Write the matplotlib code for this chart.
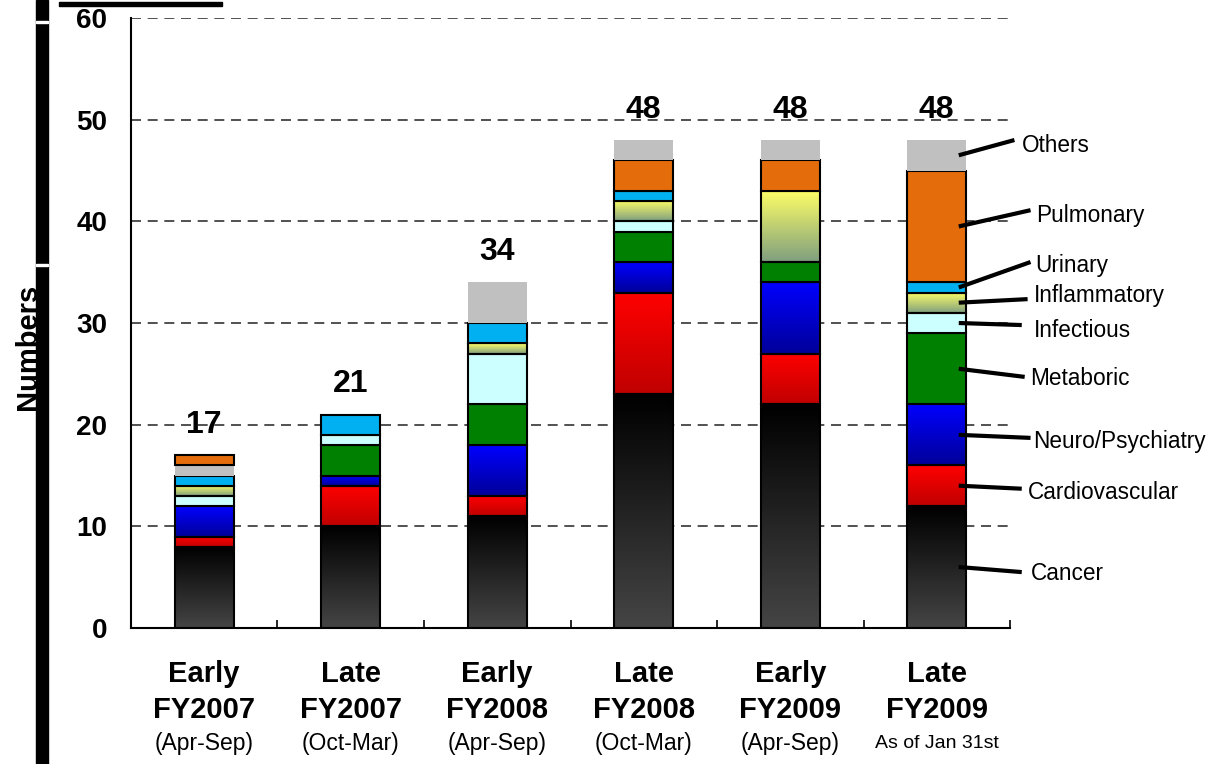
import matplotlib.pyplot as plt
import numpy as np
from matplotlib.colors import LinearSegmentedColormap
from matplotlib.patches import Rectangle

plt.rcParams['font.family'] = ['Liberation Sans', 'DejaVu Sans']

periods = ['Early\nFY2007', 'Late\nFY2007', 'Early\nFY2008', 'Late\nFY2008', 'Early\nFY2009', 'Late\nFY2009']
sub_labels = ['(Apr-Sep)', '(Oct-Mar)', '(Apr-Sep)', '(Oct-Mar)', '(Apr-Sep)', 'As of Jan 31st']

categories = ['Cancer', 'Cardiovascular', 'Neuro/Psychiatry', 'Metaboric', 'Infectious',
              'Inflammatory', 'Urinary', 'Pulmonary', 'Others']

cancer = [8, 10, 11, 23, 22, 12]
cardiovascular = [1, 4, 2, 10, 5, 4]
neuro = [3, 1, 5, 3, 7, 6]
metaboric = [0, 3, 4, 3, 2, 7]
infectious = [1, 1, 5, 1, 0, 2]
inflammatory = [1, 0, 1, 2, 7, 2]
urinary = [1, 2, 2, 1, 0, 1]
pulmonary = [1, 0, 0, 3, 3, 11]
others = [1, 0, 4, 2, 2, 3]

# the first period stacks Others underneath Pulmonary
others_under_pulmonary = [True, False, False, False, False, False]

series = [cancer, cardiovascular, neuro, metaboric, infectious,
          inflammatory, urinary, pulmonary, others]
totals = [sum(v) for v in zip(*series)]

# (top colour, bottom colour) -> vertical gradient; single colour -> flat fill
fills = {
    'Cancer': ('#000000', '#454545'),
    'Cardiovascular': ('#ff0000', '#c00000'),
    'Neuro/Psychiatry': ('#0000ff', '#000099'),
    'Metaboric': '#008000',
    'Infectious': '#ccffff',
    'Inflammatory': ('#ffff66', '#7f9f7f'),
    'Urinary': '#00b0f0',
    'Pulmonary': '#e46c0a',
    'Others': '#c0c0c0',
}

fig = plt.figure(figsize=(12.15, 7.64), dpi=100)
ax = fig.add_axes([0.1078, 0.178, 0.7235, 0.7984])

x = np.arange(len(periods))
width = 0.4
grad = np.linspace(0, 1, 128).reshape(-1, 1)

for i in range(len(periods)):
    order = list(range(len(categories)))
    if others_under_pulmonary[i]:
        order[-2], order[-1] = order[-1], order[-2]
    bottom = 0
    for k in order:
        h = series[k][i]
        if h == 0:
            continue
        name = categories[k]
        fill = fills[name]
        if isinstance(fill, tuple):
            cmap = LinearSegmentedColormap.from_list(name, [fill[1], fill[0]])
            ax.imshow(grad, cmap=cmap, aspect='auto', origin='lower', zorder=2,
                      extent=[x[i] - width / 2, x[i] + width / 2, bottom, bottom + h])
            face = 'none'
        else:
            face = fill
        edge = 'none' if name == 'Others' else 'black'
        ax.bar(x[i], h, width, bottom=bottom, color=face, edgecolor=edge,
               linewidth=1.5, zorder=3)
        bottom += h
    ax.text(x[i], totals[i] + 3, str(totals[i]), ha='center', va='center',
            fontsize=23, fontweight='bold', zorder=4)

# callouts naming each disease area on the last bar
label_pos = {
    'Others': (5.58, 47.5, 5.53, 48.0),
    'Pulmonary': (5.68, 40.6, 5.64, 41.1),
    'Urinary': (5.67, 35.7, 5.64, 36.0),
    'Inflammatory': (5.66, 32.7, 5.62, 32.35),
    'Infectious': (5.66, 29.3, 5.58, 29.8),
    'Metaboric': (5.64, 24.5, 5.60, 24.7),
    'Neuro/Psychiatry': (5.66, 18.3, 5.64, 18.7),
    'Cardiovascular': (5.62, 13.3, 5.58, 13.7),
    'Cancer': (5.64, 5.4, 5.58, 5.5),
}
last = len(periods) - 1
bottom = 0
for k, name in enumerate(categories):
    h = series[k][last]
    mid = bottom + h / 2
    bottom += h
    tx, ty, lx, ly = label_pos[name]
    ax.plot([x[last] + 0.15, lx], [mid, ly], color='black', lw=3,
            solid_capstyle='butt', clip_on=False, zorder=5)
    ax.text(tx, ty, name, ha='left', va='center', fontsize=16.3, clip_on=False)

ax.set_xlim(-0.5, len(periods) - 0.5)
ax.set_ylim(0, 60)
ax.set_yticks(range(0, 61, 10))
ax.tick_params(axis='y', length=0, pad=17, labelsize=20)
for lbl in ax.get_yticklabels():
    lbl.set_fontweight('bold')

ax.set_xticks(x, labels=periods, fontsize=21, fontweight='bold', linespacing=1.35)
ax.set_xticks(np.arange(-0.5, len(periods)), minor=True)
ax.tick_params(axis='x', which='major', length=0, pad=23)
ax.tick_params(axis='x', which='minor', direction='in', length=6, width=1.2)
for i, s in enumerate(sub_labels):
    ax.text(x[i], -0.19, s, transform=ax.get_xaxis_transform(),
            ha='center', va='center', fontsize=14 if i == last else 16.5)

ax.yaxis.grid(True, color='#333333', linestyle=(0, (6, 4)), linewidth=1.2)
ax.set_axisbelow(True)
for side in ['top', 'right']:
    ax.spines[side].set_visible(False)
ax.spines['left'].set_linewidth(1.5)
ax.spines['bottom'].set_linewidth(1.5)

fig.text(28 / 1215, 1 - 347 / 764, 'Numbers', rotation=90, ha='center', va='center',
         fontsize=21, fontweight='bold')

# slide border pieces
W, H = 1215, 764
fig.add_artist(Rectangle((36 / W, 0), 12 / W, 1, transform=fig.transFigure,
                         color='black', zorder=10))
for gy in [22, 265]:
    fig.add_artist(Rectangle((36 / W, 1 - (gy + 1) / H), 12 / W, 2 / H,
                             transform=fig.transFigure, color='white', zorder=11))
fig.add_artist(Rectangle((59 / W, 1 - 6 / H), 163 / W, 4 / H,
                         transform=fig.transFigure, color='black', zorder=10))

fig.savefig('out.png', dpi=100)
